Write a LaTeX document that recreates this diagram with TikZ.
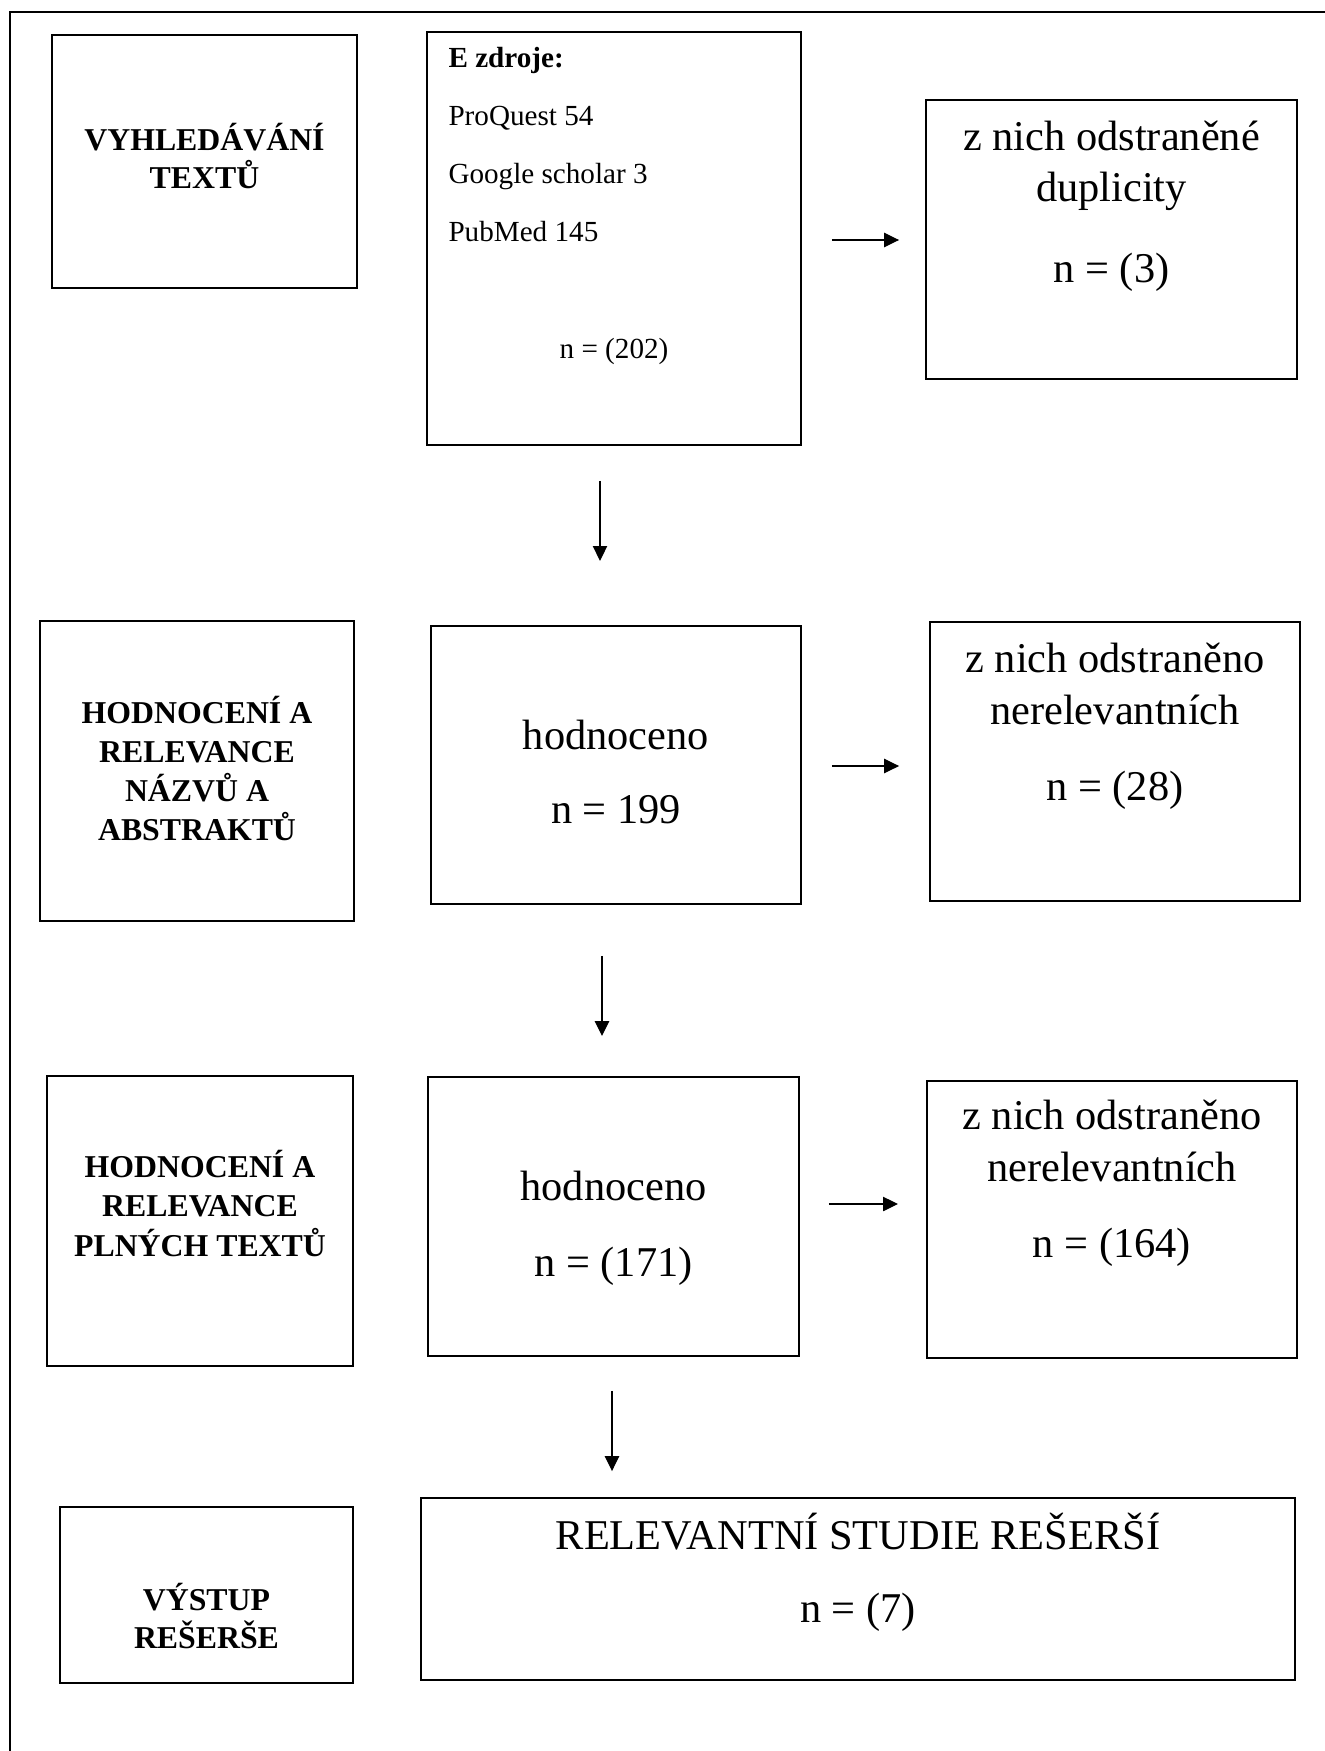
\documentclass[tikz,border=0pt]{standalone}
\usepackage{fontspec}
\setmainfont{Liberation Serif}
\usetikzlibrary{arrows.meta,fit}

\tikzset{
  rbox/.style={draw,line width=0.75pt,inner sep=0pt},
  hdtext/.style={font=\bfseries\fontsize{12}{14}\selectfont,anchor=base,inner sep=0pt},
  bigtext/.style={font=\fontsize{16}{19}\selectfont,anchor=base,inner sep=0pt},
  smalltext/.style={font=\fontsize{11}{13}\selectfont,anchor=base west,inner sep=0pt},
  arr/.style={line width=0.45pt,-{Triangle[length=5.6pt,width=5.4pt]}}
}

\begin{document}
\begin{tikzpicture}[x=0.3774pt,y=-0.3774pt]
        \useasboundingbox (0,0) rectangle (1325,1751);
        \draw[line width=0.8pt] (10,1751) -- (10,12) -- (1325,12);
        % first row
        \node[rbox,fit={(52,35) (357,288)}] (A) {};
        \node[rbox,fit={(427,32) (801,445)}] (B) {};
        \node[rbox,fit={(926,100) (1297,379)}] (C) {};
        \node[hdtext] (a1) at (204.5,150) {VYHLEDÁVÁNÍ};
        \node[hdtext] (a2) at (204.5,189) {TEXTŮ};
        \node[smalltext,font=\bfseries\fontsize{11}{13}\selectfont] (b1) at (448,68) {E zdroje:};
        \node[smalltext] (b2) at (448,126) {ProQuest 54};
        \node[smalltext] (b3) at (448,184) {Google scholar 3};
        \node[smalltext] (b4) at (448,241) {PubMed 145};
        \node[smalltext,anchor=base] (b5) at (614,358) {n = (202)};
        \node[bigtext] (c1) at (1111.5,150) {z nich odstraněné};
        \node[bigtext] (c2) at (1111.5,202) {duplicity};
        \node[bigtext] (c3) at (1111.5,282) {n = (3)};
        % second row
        \node[rbox,fit={(40,621) (354,921)}] (D) {};
        \node[rbox,fit={(431,626) (801,904)}] (E) {};
        \node[rbox,fit={(930,622) (1300,901)}] (F) {};
        \node[hdtext] (d1) at (197,723) {HODNOCENÍ A};
        \node[hdtext] (d2) at (197,762) {RELEVANCE};
        \node[hdtext] (d3) at (197,801) {NÁZVŮ A};
        \node[hdtext] (d4) at (197,840) {ABSTRAKTŮ};
        \node[bigtext] (e1) at (616,749) {hodnoceno};
        \node[bigtext] (e2) at (616,823) {n = 199};
        \node[bigtext] (f1) at (1115,672) {z nich odstraněno};
        \node[bigtext] (f2) at (1115,724) {nerelevantních};
        \node[bigtext] (f3) at (1115,800) {n = (28)};
        % third row
        \node[rbox,fit={(47,1076) (353,1366)}] (G) {};
        \node[rbox,fit={(428,1077) (799,1356)}] (H) {};
        \node[rbox,fit={(927,1081) (1297,1358)}] (I) {};
        \node[hdtext] (g1) at (200,1177) {HODNOCENÍ A};
        \node[hdtext] (g2) at (200,1216) {RELEVANCE};
        \node[hdtext] (g3) at (200,1256) {PLNÝCH TEXTŮ};
        \node[bigtext] (h1) at (613.5,1200) {hodnoceno};
        \node[bigtext] (h2) at (613.5,1276) {n = (171)};
        \node[bigtext] (i1) at (1112,1129) {z nich odstraněno};
        \node[bigtext] (i2) at (1112,1181) {nerelevantních};
        \node[bigtext] (i3) at (1112,1257) {n = (164)};
        % output
        \node[rbox,fit={(60,1507) (353,1683)}] (J) {};
        \node[rbox,fit={(421,1498) (1295,1680)}] (K) {};
        \node[hdtext] (j1) at (206.5,1610) {VÝSTUP};
        \node[hdtext] (j2) at (206.5,1648) {REŠERŠE};
        \node[bigtext] (k1) at (858,1549) {RELEVANTNÍ STUDIE REŠERŠÍ};
        \node[bigtext] (k2) at (858,1622) {n = (7)};
        % arrows
        \draw[arr,shorten <=11.3pt,shorten >=9.8pt] (B.east |- 0,240) -- (C.west |- 0,240);
        \draw[arr,shorten <=11.3pt,shorten >=11.3pt] (E.east |- 0,766) -- (F.west |- 0,766);
        \draw[arr,shorten <=10.9pt,shorten >=10.6pt] (H.east |- 0,1204) -- (I.west |- 0,1204);
        \draw[arr,shorten <=13.2pt,shorten >=24.2pt] (B.south -| 600,0) -- (E.north -| 600,0);
        \draw[arr,shorten <=19.2pt,shorten >=15.1pt] (E.south -| 602,0) -- (H.north -| 602,0);
        \draw[arr,shorten <=12.8pt,shorten >=9.8pt] (H.south -| 612,0) -- (K.north -| 612,0);
\end{tikzpicture}
\end{document}
